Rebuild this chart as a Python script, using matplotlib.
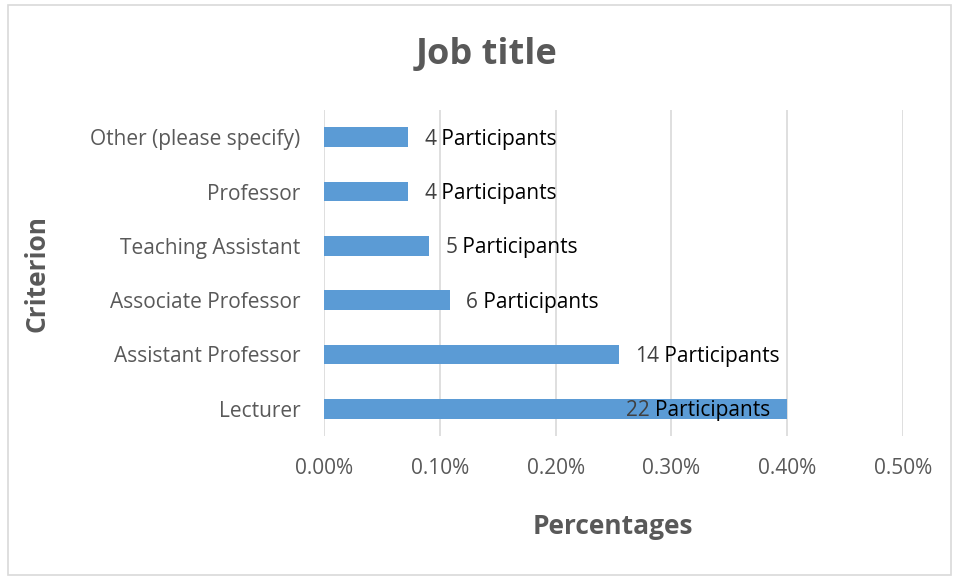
import matplotlib
matplotlib.use("Agg")
import matplotlib.pyplot as plt
from matplotlib.patches import Rectangle

categories = ["Lecturer", "Assistant Professor", "Associate Professor",
              "Teaching Assistant", "Professor", "Other (please specify)"]
percentages = [0.40, 0.2545, 0.109, 0.091, 0.0727, 0.0727]
participants = [22, 14, 6, 5, 4, 4]
xticks = [0.0, 0.1, 0.2, 0.3, 0.4, 0.5]
xticklabels = ["0.00%", "0.10%", "0.20%", "0.30%", "0.40%", "0.50%"]

plt.rcParams['font.family'] = ['Open Sans', 'DejaVu Sans']

W, H = 959, 578
fig = plt.figure(figsize=(W / 100, H / 100), dpi=100)
fig.patch.set_facecolor("white")
fig.add_artist(Rectangle((8 / W, 1 - 575 / H), 943 / W, 570 / H, transform=fig.transFigure,
                         fill=False, edgecolor="#d9d9d9", linewidth=1.2))

left, right, top, bottom = 324, 903, 110, 436
ax = fig.add_axes([left / W, 1 - bottom / H, (right - left) / W, (bottom - top) / H])

FS = 15
y = list(range(len(categories)))
ax.barh(y, percentages, height=0.36, color="#5b9bd5", zorder=3)
ax.set_xlim(0, 0.5)
ax.set_ylim(-0.5, len(categories) - 0.5)
ax.set_xticks(xticks)
ax.set_xticklabels(xticklabels)
ax.set_yticks(y)
ax.set_yticklabels(categories)
ax.tick_params(axis='both', length=0, labelsize=FS, colors="#595959")
ax.tick_params(axis='x', pad=16)
ax.tick_params(axis='y', pad=17)
ax.grid(axis='x', color="#d9d9d9", linewidth=1.2, zorder=0)
for s in ax.spines.values():
    s.set_visible(False)

for i, (p, n) in enumerate(zip(percentages, participants)):
    if p > 0.35:
        t2 = ax.annotate("Participants", xy=(p, i), xytext=(-17, -2), textcoords="offset pixels",
                         va="center", ha="right", fontsize=FS, color="black", zorder=4)
        ax.annotate(f"{n} ", xy=(0, 0), xycoords=t2, va="bottom", ha="right",
                    fontsize=FS, color="#404040", zorder=4)
    else:
        t = ax.annotate(f"{n}", xy=(p, i), xytext=(16, -2), textcoords="offset pixels",
                        va="center", ha="left", fontsize=FS, color="#404040", zorder=4)
        ax.annotate(" Participants", xy=(1, 0), xycoords=t, va="bottom", ha="left",
                    fontsize=FS, color="black", zorder=4)

fig.text(487 / W, 1 - 55 / H, "Job title", ha="center", va="center",
         fontsize=26, fontweight="bold", color="#595959")
fig.text(613 / W, 1 - 527 / H, "Percentages", ha="center", va="center",
         fontsize=19, fontweight="bold", color="#595959")
fig.text(37 / W, 1 - 273 / H, "Criterion", ha="center", va="center", rotation=90,
         fontsize=19, fontweight="bold", color="#595959")

fig.savefig("out.png", dpi=100)
